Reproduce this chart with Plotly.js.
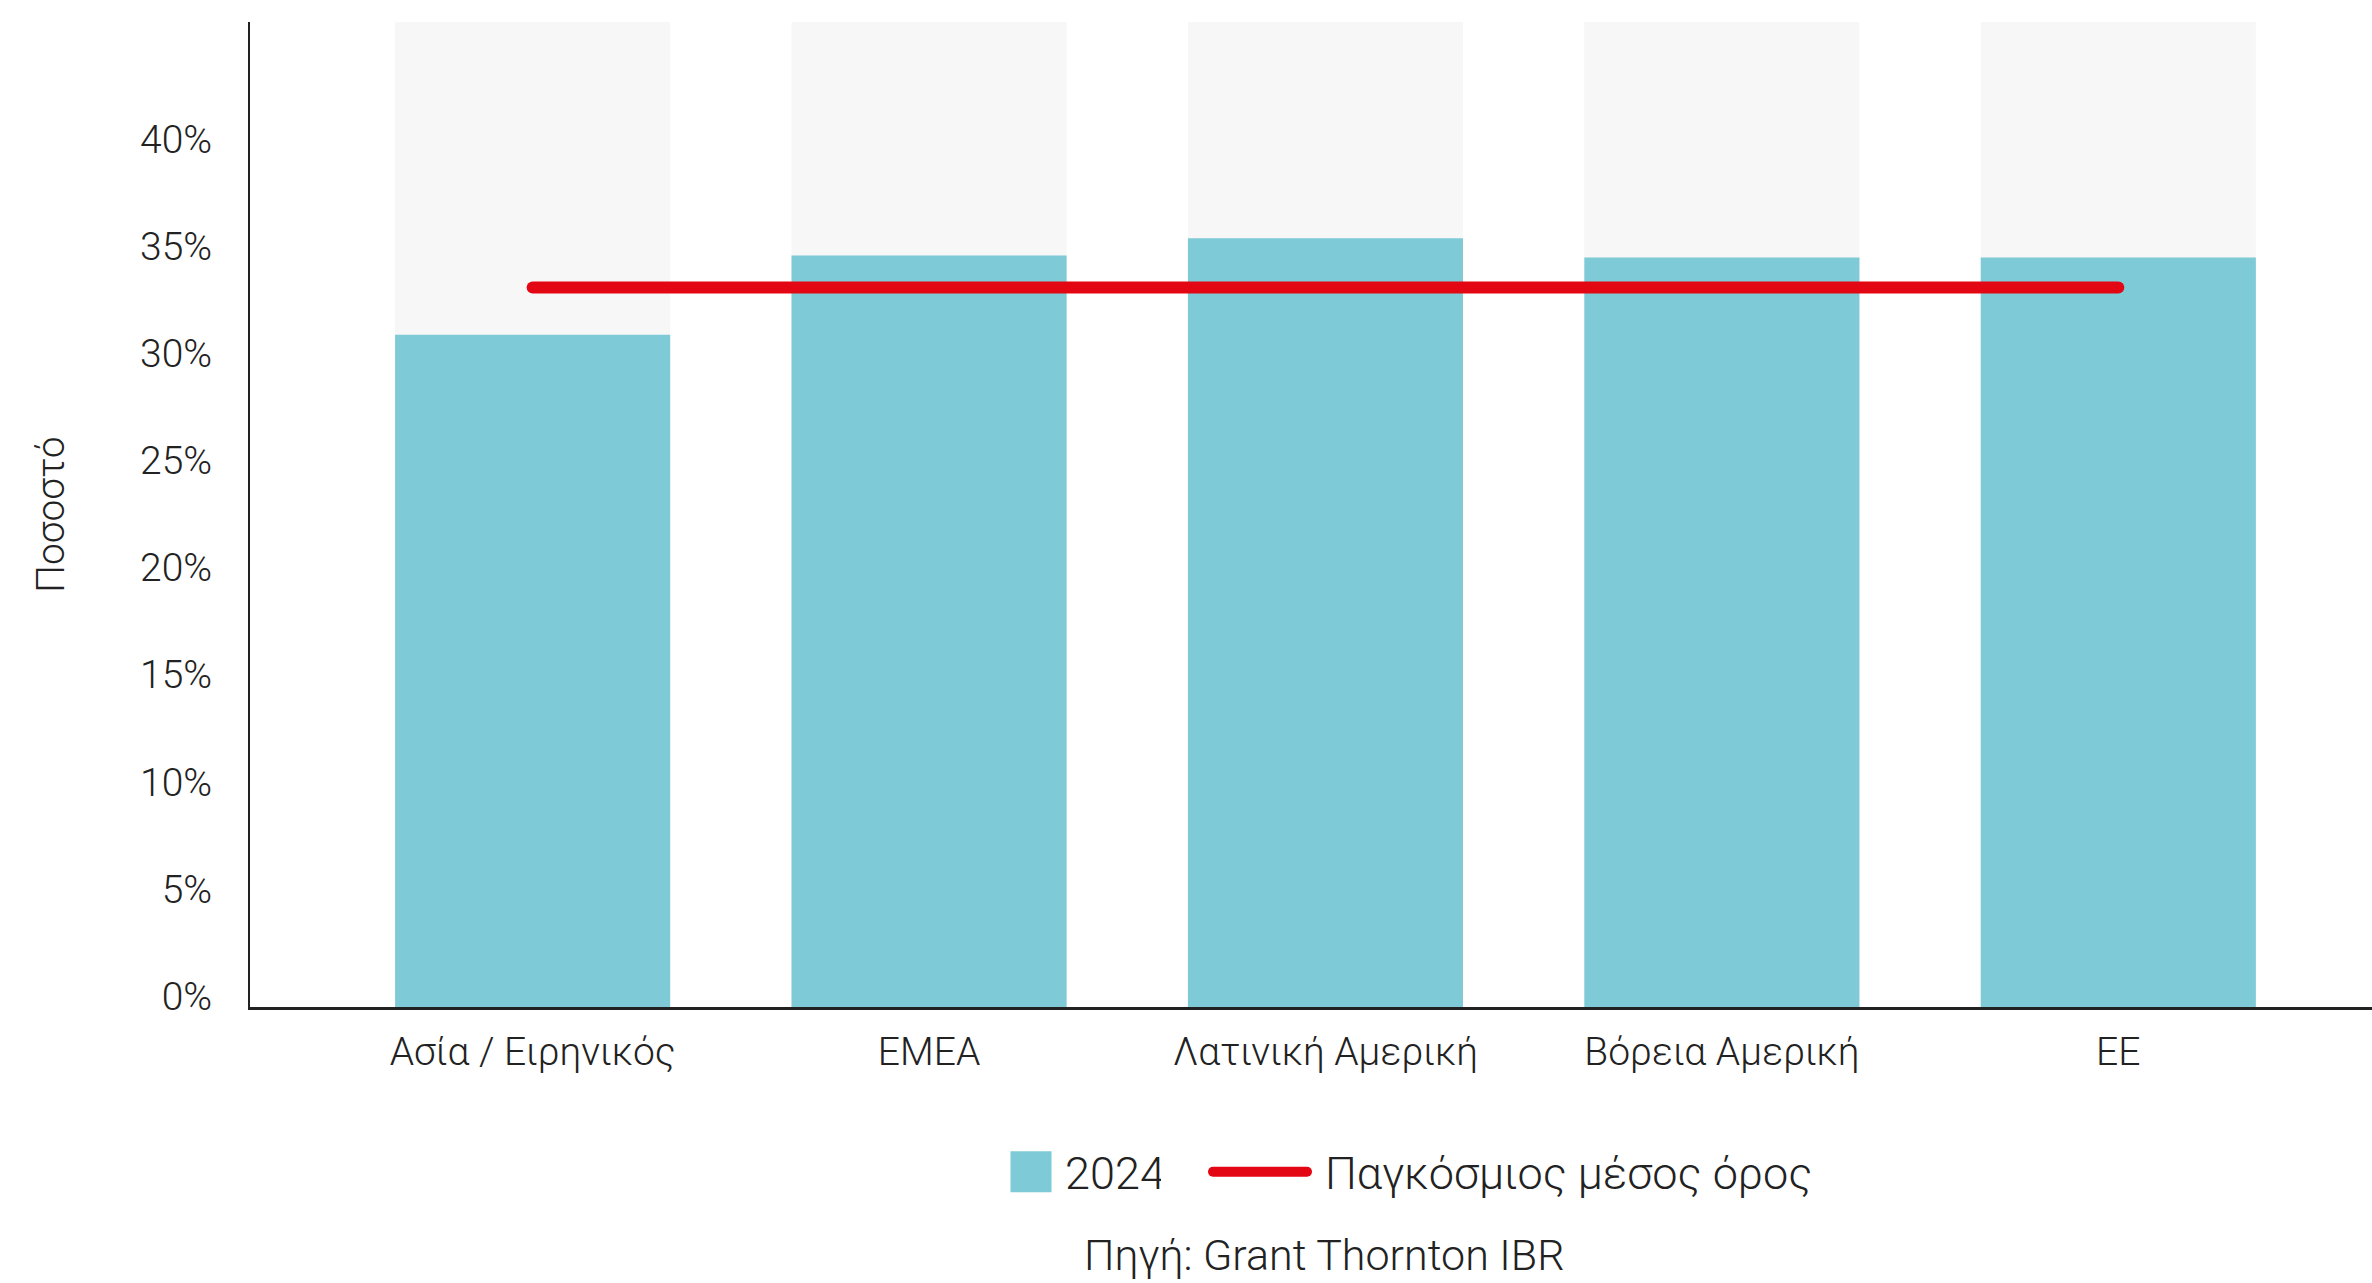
<!DOCTYPE html>
<html>
<head>
<meta charset="utf-8">
<script src="https://cdn.plot.ly/plotly-3.0.1.min.js"></script>
<style>
  html, body { margin: 0; padding: 0; background: #fff; }
  #chart { width: 2372px; height: 1283px; }
</style>
</head>
<body>
<div id="chart"></div>
<script>
// regions and the share for 2024
var regions = ["Ασία / Ειρηνικός", "EMEA", "Λατινική Αμερική", "Βόρεια Αμερική", "ΕΕ"];
var share2024 = [31.4, 35.1, 35.9, 35.0, 35.0];
var globalAvg = [33.6, 33.6, 33.6, 33.6, 33.6];
// pale column behind each bar runs up to the top of the plot
var backdrop = [46, 46, 46, 46, 46];
var yTicks = [0, 5, 10, 15, 20, 25, 30, 35, 40];
var yTickText = yTicks.map(v => v + "%");

var textColor = "#222222";
var fontFam = "Roboto, 'Open Sans', sans-serif";

var backTrace = {
  x: regions,
  y: backdrop,
  type: "bar",
  marker: {color: "#f7f7f7"},
  showlegend: false,
  hoverinfo: "skip"
};
var barTrace = {
  x: regions,
  y: share2024,
  type: "bar",
  name: "2024",
  marker: {color: "#7ecad6"},
  legend: "legend"
};
var avgTrace = {
  x: regions,
  y: globalAvg,
  type: "scatter",
  mode: "lines",
  name: "Παγκόσμιος μέσος όρος",
  line: {color: "#e30613", width: 12},
  legend: "legend2"
};

var data = [backTrace, barTrace, avgTrace];

var legendFont = {size: 45, color: textColor, weight: 300};

var layout = {
  width: 2372,
  height: 1283,
  margin: {l: 250, r: 0, t: 22, b: 276},
  paper_bgcolor: "#ffffff",
  plot_bgcolor: "#ffffff",
  font: {family: fontFam, color: textColor, size: 39, weight: 300},
  barmode: "overlay",
  bargap: 0.306,
  xaxis: {
    range: [-0.713, 4.64],
    showgrid: false,
    zeroline: false,
    showline: true,
    linecolor: textColor,
    linewidth: 3,
    ticks: "",
    ticklabelstandoff: 8,
    tickfont: {size: 39, color: textColor, weight: 300}
  },
  yaxis: {
    range: [0, 46],
    tickvals: yTicks,
    ticktext: yTickText,
    showgrid: false,
    zeroline: false,
    showline: true,
    linecolor: textColor,
    linewidth: 2,
    ticks: "",
    ticklabelstandoff: 28,
    ticklabelshift: -11,
    tickfont: {size: 39, color: textColor, weight: 300},
    title: {text: "Ποσοστό", standoff: 63, font: {size: 39, color: textColor, weight: 300}}
  },
  legend: {
    orientation: "h",
    xref: "container", yref: "container",
    x: 1006 / 2372, xanchor: "left",
    y: 1 - 1172 / 1283, yanchor: "middle",
    font: legendFont,
    itemwidth: 40
  },
  legend2: {
    orientation: "h",
    xref: "container", yref: "container",
    x: 1205 / 2372, xanchor: "left",
    y: 1 - 1172 / 1283, yanchor: "middle",
    font: legendFont,
    itemwidth: 110
  },
  annotations: [{
    text: "Πηγή: Grant Thornton IBR",
    xref: "paper",
    yref: "paper",
    x: 0.506,
    y: (1007 - 1255) / 985,
    xanchor: "center",
    yanchor: "middle",
    showarrow: false,
    font: {size: 43, color: textColor, weight: 300}
  }]
};

Plotly.newPlot("chart", data, layout, {displayModeBar: false, staticPlot: true}).then(function (gd) {
  // bigger square swatch for the bar entry, with a little more room before its text
  gd.querySelectorAll(".legend .legendpoints path").forEach(function (p) {
    p.setAttribute("d", "M20.5,20.5H-20.5V-20.5H20.5Z");
  });
  gd.querySelectorAll(".legend .legendtext").forEach(function (t) {
    t.setAttribute("x", parseFloat(t.getAttribute("x")) + 9);
  });
  // longer legend line, round ends on the average line
  gd.querySelectorAll(".legend2 .legendlines path").forEach(function (p) {
    p.setAttribute("d", "M8,0h94");
    p.style.strokeLinecap = "round";
  });
  gd.querySelectorAll(".scatterlayer .js-line").forEach(function (p) {
    p.style.strokeLinecap = "round";
  });
});
</script>
</body>
</html>
